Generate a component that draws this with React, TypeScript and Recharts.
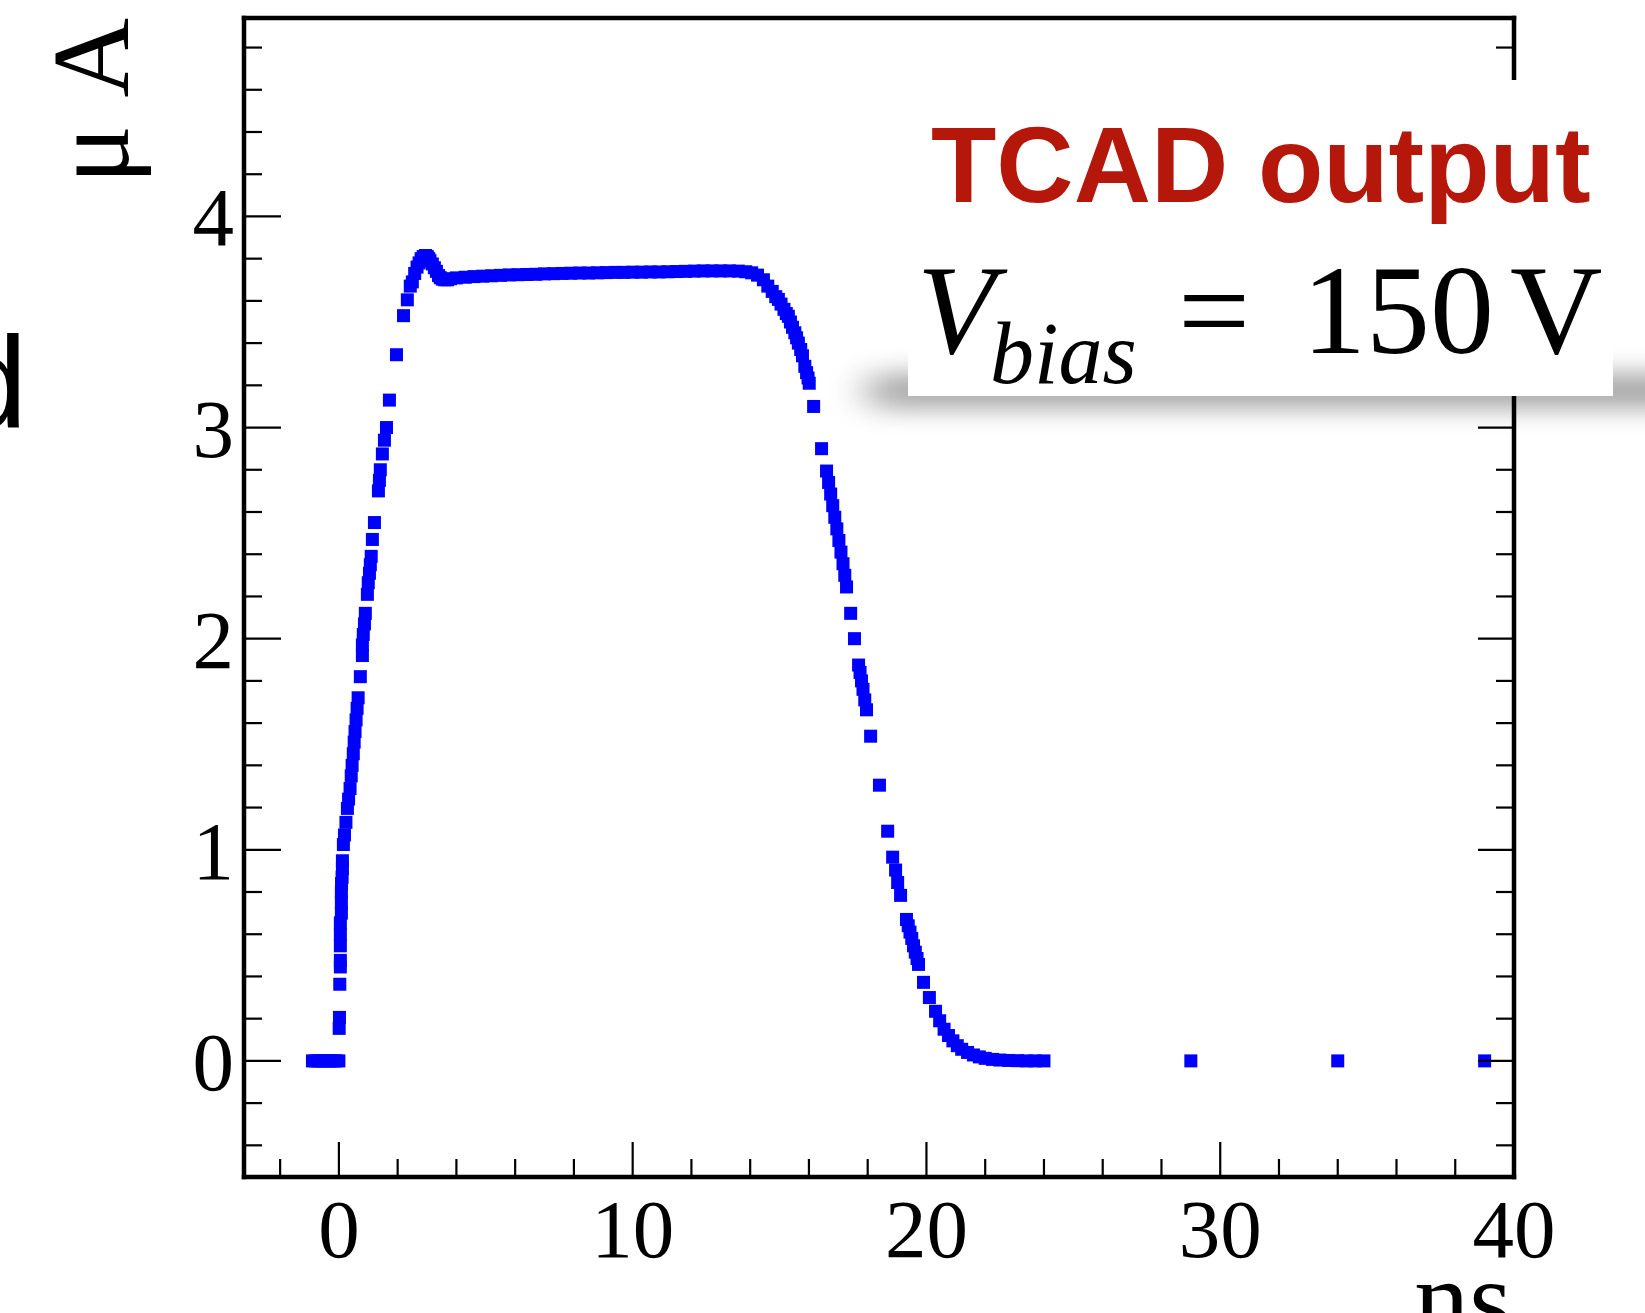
import React from 'react';
import { ScatterChart, Scatter, XAxis, YAxis } from 'recharts';

// ---------- data (time in ns, current in μA) ----------
const baseTime = [-0.9, -0.8, -0.7, -0.6, -0.5, -0.4, -0.3, -0.2, -0.1, 0.0];
const baseCurrent = [0, 0, 0, 0, 0, 0, 0, 0, 0, 0];

const riseTime = [0.01, 0.02, 0.03, 0.05, 0.05, 0.05, 0.05, 0.05, 0.085, 0.085, 0.085, 0.09, 0.11, 0.12, 0.12, 0.153, 0.19, 0.24, 0.29, 0.33, 0.38, 0.42, 0.45, 0.49, 0.52, 0.55, 0.585, 0.62, 0.655, 0.73, 0.8, 0.8, 0.83, 0.87, 0.9, 0.97, 1.0, 1.04, 1.07, 1.1, 1.14, 1.21, 1.345, 1.38, 1.41, 1.48, 1.55, 1.62, 1.72, 1.96, 2.2, 2.33, 2.43];
const riseCurrent = [0.154, 0.206, 0.363, 0.445, 0.476, 0.545, 0.6, 0.654, 0.7, 0.75, 0.8, 0.84, 0.87, 0.91, 0.948, 1.025, 1.07, 1.13, 1.196, 1.24, 1.29, 1.35, 1.4, 1.455, 1.51, 1.56, 1.615, 1.67, 1.72, 1.82, 1.92, 1.97, 2.02, 2.07, 2.12, 2.21, 2.265, 2.31, 2.35, 2.39, 2.47, 2.55, 2.7, 2.75, 2.8, 2.875, 2.94, 3.0, 3.13, 3.345, 3.53, 3.605, 3.67];

const peakTime = [2.5, 2.58, 2.66, 2.73, 2.8, 2.87, 2.95, 3.01, 3.06, 3.1, 3.18, 3.25, 3.32, 3.39, 3.45, 3.52, 3.6, 3.7, 3.8];
const peakCurrent = [3.69, 3.73, 3.76, 3.78, 3.8, 3.81, 3.815, 3.81, 3.8, 3.79, 3.775, 3.757, 3.74, 3.72, 3.71, 3.703, 3.7, 3.7, 3.705];

const plateauTime = [4.0, 4.3, 4.6, 4.9, 5.2, 5.5, 5.8, 6.1, 6.4, 6.7, 7.0, 7.3, 7.6, 7.9, 8.2, 8.5, 8.8, 9.1, 9.4, 9.7, 10.0, 10.3, 10.6, 10.9, 11.2, 11.5, 11.8, 12.1, 12.4, 12.7, 13.0, 13.3, 13.6, 13.85, 14.05, 14.25];
const plateauCurrent = [3.709, 3.712, 3.715, 3.717, 3.719, 3.721, 3.723, 3.724, 3.725, 3.726, 3.728, 3.729, 3.73, 3.731, 3.732, 3.732, 3.733, 3.734, 3.735, 3.735, 3.736, 3.736, 3.737, 3.737, 3.738, 3.739, 3.74, 3.741, 3.742, 3.742, 3.742, 3.742, 3.741, 3.738, 3.733, 3.722];

const fallTime = [14.45, 14.6, 14.75, 14.87, 14.96, 15.05, 15.15, 15.23, 15.3, 15.37, 15.44, 15.52, 15.58, 15.64, 15.72, 15.78, 15.86, 15.92, 15.97, 16.01, 16.16, 16.43, 16.6, 16.67, 16.74, 16.81, 16.88, 16.95, 17.02, 17.09, 17.16, 17.22, 17.28, 17.42, 17.55, 17.69, 17.74, 17.79, 17.84, 17.9, 17.96, 18.1, 18.4, 18.68, 18.85, 18.95, 19.02, 19.12, 19.32, 19.38, 19.44, 19.5, 19.56, 19.62, 19.68, 19.73, 19.9, 20.1, 20.31];
const fallCurrent = [3.7, 3.67, 3.645, 3.62, 3.607, 3.585, 3.56, 3.54, 3.527, 3.5, 3.475, 3.449, 3.425, 3.4, 3.37, 3.34, 3.29, 3.26, 3.235, 3.21, 3.1, 2.9, 2.794, 2.74, 2.685, 2.63, 2.575, 2.52, 2.465, 2.41, 2.355, 2.3, 2.245, 2.12, 2.0, 1.875, 1.84, 1.8, 1.76, 1.71, 1.663, 1.538, 1.306, 1.088, 0.965, 0.904, 0.845, 0.784, 0.67, 0.64, 0.61, 0.58, 0.545, 0.515, 0.485, 0.457, 0.372, 0.3, 0.235];

const tailTime = [20.45, 20.6, 20.75, 20.9, 21.05, 21.2, 21.4, 21.6, 21.8, 22.0, 22.25, 22.5, 22.8, 23.1, 23.4, 23.7, 24.0];
const tailCurrent = [0.19, 0.15, 0.12, 0.095, 0.072, 0.055, 0.04, 0.028, 0.019, 0.012, 0.007, 0.004, 0.002, 0.001, 0, 0, 0];

const lateTime = [29, 34, 39];
const lateCurrent = [0, 0, 0];

// ---------- axis ticks ----------
const xTicks = [-2, 0, 2, 4, 6, 8, 10, 12, 14, 16, 18, 20, 22, 24, 26, 28, 30, 32, 34, 36, 38, 40];
const xMajorTicks = [0, 10, 20, 30, 40];
const yTicks = [-0.4, -0.2, 0, 0.2, 0.4, 0.6, 0.8, 1, 1.2, 1.4, 1.6, 1.8, 2, 2.2, 2.4, 2.6, 2.8, 3, 3.2, 3.4, 3.6, 3.8, 4, 4.2, 4.4, 4.6, 4.8];
const yMajorTicks = [0, 1, 2, 3, 4];

const xDomain: [number, number] = [-3.23, 40];
const yDomain: [number, number] = [-0.55, 4.94];

const timeAll = [...baseTime, ...riseTime, ...peakTime, ...plateauTime, ...fallTime, ...tailTime, ...lateTime];
const currentAll = [...baseCurrent, ...riseCurrent, ...peakCurrent, ...plateauCurrent, ...fallCurrent, ...tailCurrent, ...lateCurrent];
const points = timeAll.map((t, k) => ({ t, i: currentAll[k] }));

const SERIF = "'Liberation Serif', 'Times New Roman', Times, serif";
const SANS = "'Liberation Sans', Arial, Helvetica, sans-serif";
const TICK_W = 2.2;

const isMajor = (list: number[], v: number) => list.some((m) => Math.abs(m - v) < 1e-9);

const BottomTick = (props: any) => {
  const { x, y, payload } = props;
  const v = payload.value;
  const major = isMajor(xMajorTicks, v);
  return (
    <g>
      <line x1={x} y1={y} x2={x} y2={y - (major ? 35 : 18)} stroke="#000" strokeWidth={TICK_W} />
      {major && (
        <text x={x} y={y + 80} textAnchor="middle" fontFamily={SERIF} fontSize={83} fill="#000">
          {String(v)}
        </text>
      )}
    </g>
  );
};

const TopTick = (props: any) => {
  const { x, y, payload } = props;
  const major = isMajor(xMajorTicks, payload.value);
  return <line x1={x} y1={y} x2={x} y2={y + (major ? 36 : 25)} stroke="#000" strokeWidth={TICK_W} />;
};

const LeftTick = (props: any) => {
  const { x, y, payload } = props;
  const v = payload.value;
  const major = isMajor(yMajorTicks, v);
  return (
    <g>
      <line x1={x} y1={y} x2={x + (major ? 37 : 18)} y2={y} stroke="#000" strokeWidth={TICK_W} />
      {major && (
        <text x={x - 10} y={y + 29} textAnchor="end" fontFamily={SERIF} fontSize={83} fill="#000">
          {String(v)}
        </text>
      )}
    </g>
  );
};

const RightTick = (props: any) => {
  const { x, y, payload } = props;
  const major = isMajor(yMajorTicks, payload.value);
  return <line x1={x} y1={y} x2={x - (major ? 36 : 18)} y2={y} stroke="#000" strokeWidth={TICK_W} />;
};

const SquareMarker = (props: any) => {
  const { cx, cy } = props;
  if (cx == null || cy == null) return null;
  return <rect x={cx - 6.5} y={cy - 6.5} width={13} height={13} fill="#0000ff" />;
};

const frameLine = { stroke: '#000', strokeWidth: 4.5, strokeLinecap: 'square' as const };

export default function App() {
  return (
    <div style={{ position: 'absolute', left: 0, top: 0, width: 1645, height: 1313, overflow: 'hidden', background: '#fff' }}>
      {/* legend shadow (below chart) */}
      <svg width={1645} height={1313} style={{ position: 'absolute', left: 0, top: 0, zIndex: 0 }}>
        <defs>
          <filter id="legendShadow" x="-20%" y="-300%" width="140%" height="700%">
            <feGaussianBlur stdDeviation="20 13" />
          </filter>
        </defs>
        <rect x={870} y={374} width={830} height={34} fill="#000" opacity={0.36} filter="url(#legendShadow)" />
      </svg>

      <div style={{ position: 'absolute', left: 0, top: 0, zIndex: 1 }}>
        <ScatterChart width={1645} height={1313} margin={{ top: 17, right: 130, bottom: 135, left: 243 }}>
          <XAxis
            xAxisId="bottom"
            type="number"
            dataKey="t"
            orientation="bottom"
            domain={xDomain}
            allowDataOverflow
            ticks={xTicks}
            interval={0}
            height={1}
            tickSize={0}
            tickMargin={0}
            tick={BottomTick}
            axisLine={frameLine}
            tickLine={false}
          />
          <XAxis
            xAxisId="top"
            type="number"
            orientation="top"
            domain={xDomain}
            allowDataOverflow
            ticks={xTicks}
            interval={0}
            height={1}
            tickSize={0}
            tickMargin={0}
            tick={TopTick}
            axisLine={frameLine}
            tickLine={false}
          />
          <YAxis
            yAxisId="left"
            type="number"
            dataKey="i"
            orientation="left"
            domain={yDomain}
            allowDataOverflow
            ticks={yTicks}
            interval={0}
            width={1}
            tickSize={0}
            tickMargin={0}
            tick={LeftTick}
            axisLine={frameLine}
            tickLine={false}
          />
          <YAxis
            yAxisId="right"
            type="number"
            orientation="right"
            domain={yDomain}
            allowDataOverflow
            ticks={yTicks}
            interval={0}
            width={1}
            tickSize={0}
            tickMargin={0}
            tick={RightTick}
            axisLine={frameLine}
            tickLine={false}
          />
          <Scatter
            xAxisId="bottom"
            yAxisId="left"
            data={points}
            fill="#0000ff"
            shape={SquareMarker}
            isAnimationActive={false}
          />
        </ScatterChart>
      </div>

      {/* texts and legend box (above chart) */}
      <svg width={1645} height={1313} style={{ position: 'absolute', left: 0, top: 0, zIndex: 2, pointerEvents: 'none' }}>
        <text x={-45} y={427} fontFamily={SANS} fontSize={130} fill="#000">d</text>
        <text transform="rotate(-90)" x={-18} y={128} textAnchor="end" fontFamily={SERIF} fontSize={110} fill="#000">
          μ A
        </text>
        <text x={1512} y={1336} textAnchor="end" fontFamily={SERIF} fontSize={110} fill="#000">ns</text>

        <rect x={908} y={80} width={705} height={316} fill="#fff" />
        <text x={931} y={202} fontFamily={SANS} fontWeight="bold" fontSize={107} fill="#B5170B">
          TCAD output
        </text>
        <text y={353} fontFamily={SERIF} fill="#000">
          <tspan x={917} fontSize={128} fontStyle="italic">V</tspan>
          <tspan x={990} y={383} fontSize={88} fontStyle="italic">bias</tspan>
          <tspan x={1178} y={353} fontSize={128}>=</tspan>
          <tspan x={1302} y={353} fontSize={128}>150</tspan>
          <tspan x={1510} y={353} fontSize={128}>V</tspan>
        </text>
      </svg>
    </div>
  );
}
